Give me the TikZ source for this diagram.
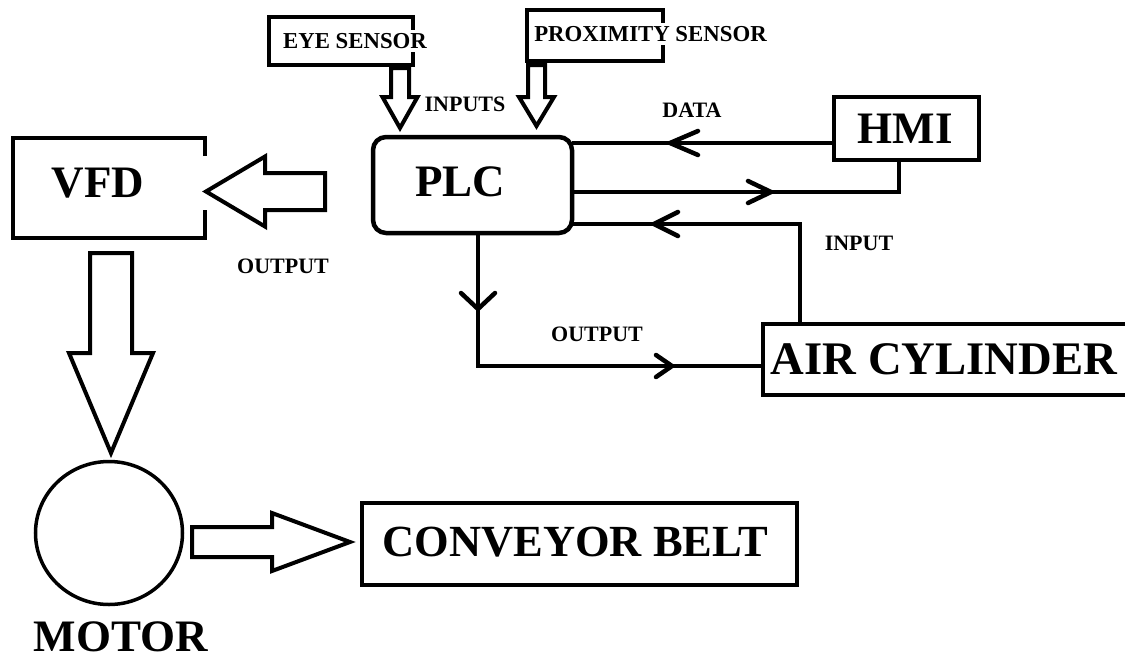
\documentclass[tikz,border=0pt]{standalone}
\usepackage{fontspec}
\setmainfont{Liberation Serif}
\usetikzlibrary{shapes.geometric,decorations.markings,calc}
\newcommand\fsz[1]{\fontsize{#1}{#1}\selectfont\bfseries}
\tikzset{
  box/.style={draw, line width=4.5pt, inner sep=0pt, outer sep=0pt},
  boxline/.style={line width=4.5pt},
  conn/.style={line width=4.5pt},
  hollow/.style={draw, line width=4pt, fill=white, line join=miter},
  slbl/.style={font=\fsz{22.8}, inner sep=0pt},
  lbl/.style={font=\fsz{22}, inner sep=0pt},
  big/.style={font=\fsz{45}, inner sep=0pt},
  chev/.style n args={3}{postaction={decorate, decoration={markings,
      mark=at position #1 with {\draw[line width=4.5pt, line cap=round, line join=miter] (-#2,#3) -- (0,0) -- (-#2,-#3);}}}},
  pics/harrow/.style n args={4}{code={
      \draw[hollow] (0,-#2) -- ({#1-#4},-#2) -- ({#1-#4},-#3) -- (#1,0) -- ({#1-#4},#3) -- ({#1-#4},#2) -- (0,#2) -- cycle;}}
}
\begin{document}
\begin{tikzpicture}[x=1pt,y=-1pt]
\useasboundingbox (0,0) rectangle (1125,662);
\clip (0,0) rectangle (1125,662);

% sensors
\node[box, minimum width=144pt, minimum height=48pt] (eye) at (340.8,41) {};
\node[slbl, fill=white, inner sep=3pt] (eyet) at (355,41) {EYE SENSOR};
\node[box, minimum width=136pt, minimum height=51pt] (prox) at (595,35.5) {};
\node[slbl, fill=white, inner sep=3pt] (proxt) at (650.5,34) {PROXIMITY SENSOR};

% PLC
\node[box, rounded corners=13pt, minimum width=199pt, minimum height=96pt] (plc) at (472.5,185) {};
\node[big] (plct) at (460,182) {PLC};

% HMI
\node[box, minimum width=145pt, minimum height=63pt] (hmi) at (906.5,128.5) {};
\node[big] (hmit) at (905,128.5) {HMI};

% VFD (right side open in the middle)
\node[inner sep=0pt, outer sep=0pt, minimum width=192pt, minimum height=100pt] (vfd) at (109,188) {};
\draw[boxline] ($(vfd.north east)+(0,18)$) -- (vfd.north east) -- (vfd.north west) -- (vfd.south west) -- (vfd.south east) -- ($(vfd.south east)+(0,-28)$);
\node[big] (vfdt) at (98,183) {VFD};

% Air cylinder
\node[box, minimum width=367pt, minimum height=71pt] (air) at (946.5,359.5) {};
\node[font=\fsz{46.7}, inner sep=0pt] (airt) at (944,359) {AIR CYLINDER};

% Motor and conveyor
\node[draw, ellipse, line width=3.5pt, inner sep=0pt, outer sep=0pt, minimum width=147pt, minimum height=143pt] (motor) at (109,533) {};
\node[big] (motort) at (121,637) {MOTOR};
\node[box, line width=4pt, minimum width=435pt, minimum height=82pt] (conv) at (579.5,544) {};
\node[font=\fsz{44.5}, inner sep=0pt] (convt) at (575,542) {CONVEYOR BELT};

% labels
\node[lbl] (inputs) at (465,104.5) {INPUTS};
\node[lbl] (data) at (692,110) {DATA};
\node[lbl] (input) at (859,243) {INPUT};
\node[lbl] (out1) at (597,334) {OUTPUT};
\node[lbl] (out2) at (283,266) {OUTPUT};

% connectors
\coordinate (k1) at (0,143);
\draw[conn, chev={164pt}{28}{12}] (hmi.west |- k1) -- (plc.east |- k1);
\coordinate (k2) at (899,192);
\draw[conn, chev={199pt}{23}{11}] (plc.east |- k2) -- (k2) -- (k2 |- hmi.south);
\coordinate (k3) at (800,224);
\draw[conn, chev={246pt}{24}{12}] (k3 |- air.north) -- (k3) -- (plc.east |- k3);
\coordinate (k4) at (478,366);
\draw[conn, chev={76pt}{16}{17}, chev={327pt}{16}{11}] (k4 |- plc.south) -- (k4) -- (air.west |- k4);

% hollow arrows
\coordinate (a1) at (400,68);
\coordinate (a2) at (536.5,65);
\coordinate (a3) at (325,191.5);
\coordinate (a4) at (111,253);
\coordinate (a5) at (192,542);
\pic[rotate=-90] at (a1) {harrow={60}{9}{17.5}{31}};
\pic[rotate=-90] at (a2) {harrow={61}{8.5}{17.5}{29}};
\pic[rotate=180] at (a3) {harrow={119}{18.5}{35}{59}};
\pic[rotate=-90] at (a4) {harrow={200}{21}{42}{100}};
\pic at (a5) {harrow={158}{15}{29}{78}};
\end{tikzpicture}
\end{document}
